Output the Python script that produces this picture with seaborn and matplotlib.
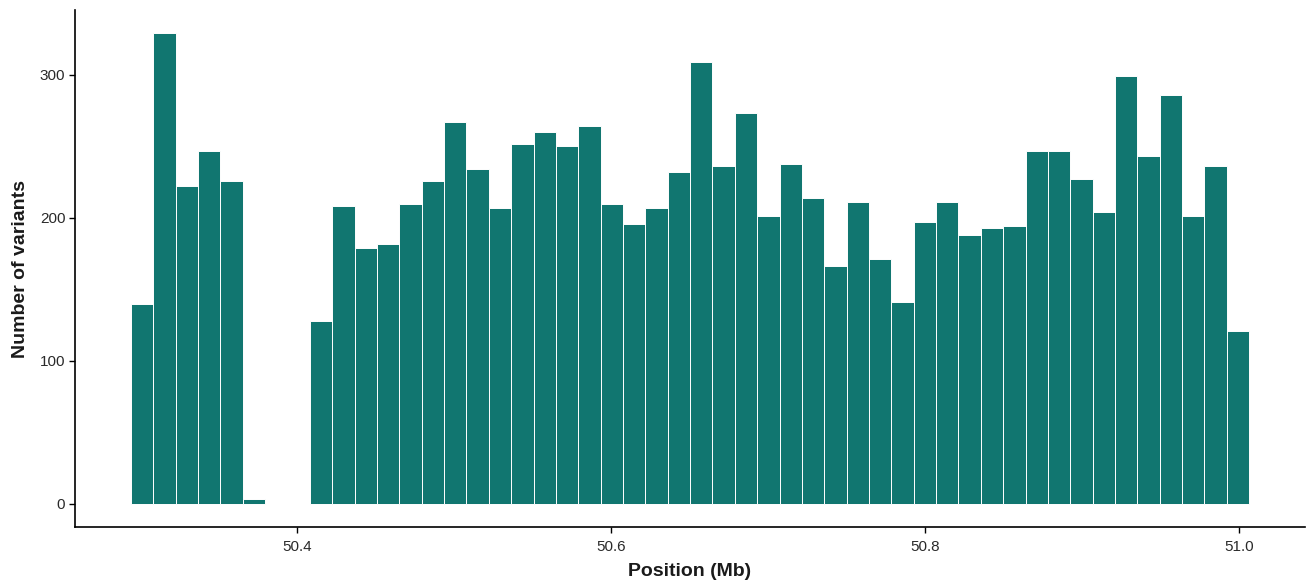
import numpy as np
import pandas as pd
import seaborn as sns
import matplotlib
matplotlib.use("Agg")
import matplotlib.pyplot as plt

# ---- data ----
pos_min = 50.294      # left edge of first bin (Mb)
pos_max = 51.0066     # right edge of last bin (Mb)
n_bins = 50
counts = [140, 329, 222, 247, 226, 3, 0, 0,
          128, 208, 179, 182, 210, 226, 267, 234, 207, 252, 260, 250, 264,
          210, 196, 207, 232, 309, 236, 273, 201,
          238, 214, 166, 211, 171, 141, 197, 211, 188, 193, 194, 247, 247,
          227, 204, 299, 243, 286, 201, 236, 121]
x_ticks = [50.4, 50.6, 50.8, 51.0]
x_tick_labels = ["50.4", "50.6", "50.8", "51.0"]
y_ticks = [0, 100, 200, 300]
x_label = "Position (Mb)"
y_label = "Number of variants"

edges = np.linspace(pos_min, pos_max, n_bins + 1)
centers = (edges[:-1] + edges[1:]) / 2
df = pd.DataFrame({"pos": centers, "n": counts})

sns.set_theme(style="ticks")
plt.rcParams["font.family"] = ["Liberation Sans", "DejaVu Sans"]

fig = plt.figure(figsize=(13.12, 5.81), dpi=100)
ax = fig.add_axes([0.0572, 0.0929, 0.9375, 0.8899])

sns.histplot(data=df, x="pos", weights="n", bins=n_bins, binrange=(pos_min, pos_max),
             color="#117670", edgecolor="white", linewidth=0.7, alpha=1, ax=ax)

xpad = 0.05 * (pos_max - pos_min)
ax.set_xlim(pos_min - xpad, pos_max + xpad)
ymax = max(counts)
ax.set_ylim(-0.05 * ymax, ymax * 1.05)

ax.set_xticks(x_ticks)
ax.set_xticklabels(x_tick_labels)
ax.set_yticks(y_ticks)

ax.tick_params(axis="both", labelsize=11, labelcolor="#2a2a2a", color="black",
               length=4.5, width=1.0)
ax.tick_params(axis="x", pad=5)
ax.tick_params(axis="y", pad=2.5)
for s in ["top", "right"]:
    ax.spines[s].set_visible(False)
for s in ["left", "bottom"]:
    ax.spines[s].set_linewidth(1.2)
    ax.spines[s].set_color("black")

ax.set_xlabel(x_label, fontsize=14, fontweight="bold", color="#1a1a1a", labelpad=6)
ax.set_ylabel(y_label, fontsize=14, fontweight="bold", color="#1a1a1a", labelpad=8)
ax.grid(False)

fig.savefig("out.png", dpi=100, facecolor="white")
